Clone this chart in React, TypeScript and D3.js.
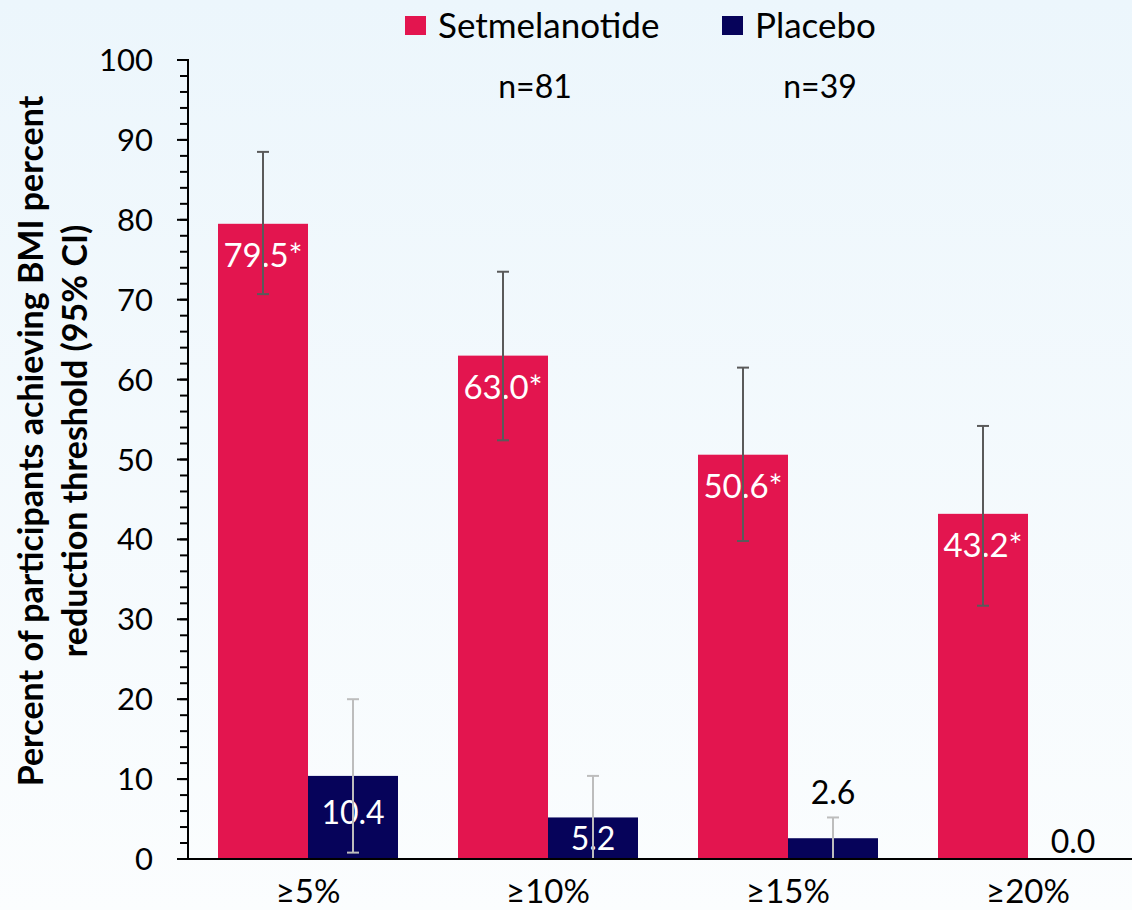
import React from "react";
import * as d3 from "d3";

// Categories and series
const categories = ["≥5%", "≥10%", "≥15%", "≥20%"];
const seriesNames = ["Setmelanotide", "Placebo"];
const seriesCounts = ["n=81", "n=39"];

const setmelanotide = [79.5, 63.0, 50.6, 43.2];
const setmelanotideLow = [70.7, 52.4, 39.8, 31.7];
const setmelanotideHigh = [88.5, 73.5, 61.5, 54.2];
const setmelanotideLabels = ["79.5*", "63.0*", "50.6*", "43.2*"];

const placebo = [10.4, 5.2, 2.6, 0.0];
const placeboLow = [0.8, 0, 0, null];
const placeboHigh = [20.0, 10.4, 5.2, null];
const placeboLabels = ["10.4", "5.2", "2.6", "0.0"];
// where each placebo label sits: inside the bar top, above the bar, or on the baseline
const placeboLabelPlacement = ["inside", "inside", "above", "base"];

const yTicks = [0, 10, 20, 30, 40, 50, 60, 70, 80, 90, 100];
const yMinorTicks = d3.range(0, 101, 2);

const W = 1132;
const H = 910;
const FONT = "Lato, 'Open Sans', sans-serif";
const PINK = "#e3154f";
const NAVY = "#06035a";

export default function App() {
  const plot = { left: 188, right: 1148, top: 60, bottom: 859 };
  const y = d3.scaleLinear().domain([0, 100]).range([plot.bottom, plot.top]);
  const x = d3.scaleBand().domain(categories).range([plot.left, plot.right]).padding(0);
  const xs = d3
    .scaleBand()
    .domain(seriesNames)
    .range([0, x.bandwidth()])
    .paddingInner(0)
    .paddingOuter(1 / 3);
  const bw = xs.bandwidth();
  const cap = 6;

  const placeboLabelY = (i: number) => {
    const p = placeboLabelPlacement[i];
    if (p === "inside") return Math.min(y(placebo[i]) + 48, y(0) - 9);
    if (p === "above") return y(placebo[i]) - 34;
    return y(0) - 6;
  };

  return (
    <svg
      width={W}
      height={H}
      style={{ position: "absolute", left: 0, top: 0 }}
      fontFamily={FONT}
    >
      <defs>
        <linearGradient id="bg" x1="0" y1="0" x2="0" y2="1">
          <stop offset="0" stopColor="#ecf6fc" />
          <stop offset="1" stopColor="#fbfdfe" />
        </linearGradient>
      </defs>
      <rect x={0} y={0} width={W} height={H} fill="url(#bg)" />

      {/* legend */}
      {seriesNames.map((s, i) => {
        const lx = i === 0 ? 405 : 722;
        return (
          <g key={s}>
            <rect x={lx} y={16} width={21} height={19} fill={i === 0 ? PINK : NAVY} />
            <text x={lx + 33} y={38} fontSize={35} fill="#000">
              {s}
            </text>
          </g>
        );
      })}
      {seriesCounts.map((n, i) => (
        <text key={n} x={i === 0 ? 535 : 820} y={98} fontSize={32} textAnchor="middle" fill="#000">
          {n}
        </text>
      ))}

      {/* bars */}
      {categories.map((c, i) => {
        const x0 = (x(c) as number) + (xs(seriesNames[0]) as number);
        const x1 = (x(c) as number) + (xs(seriesNames[1]) as number);
        return (
          <g key={c}>
            <rect x={x0} y={y(setmelanotide[i])} width={bw} height={y(0) - y(setmelanotide[i])} fill={PINK} />
            {placebo[i] > 0 && (
              <rect x={x1} y={y(placebo[i])} width={bw} height={y(0) - y(placebo[i])} fill={NAVY} />
            )}
          </g>
        );
      })}

      {/* labels */}
      {categories.map((c, i) => {
        const x0 = (x(c) as number) + (xs(seriesNames[0]) as number) + bw / 2;
        const x1 = (x(c) as number) + (xs(seriesNames[1]) as number) + bw / 2;
        return (
          <g key={c}>
            <text x={x0} y={y(setmelanotide[i]) + 43} fontSize={33} fill="#fff" textAnchor="middle">
              {setmelanotideLabels[i]}
            </text>
            <text
              x={x1}
              y={placeboLabelY(i)}
              fontSize={32}
              fill={placeboLabelPlacement[i] === "inside" ? "#fff" : "#000"}
              textAnchor="middle"
            >
              {placeboLabels[i]}
            </text>
          </g>
        );
      })}

      {/* error bars */}
      {categories.map((c, i) => {
        const cx0 = (x(c) as number) + (xs(seriesNames[0]) as number) + bw / 2;
        const cx1 = (x(c) as number) + (xs(seriesNames[1]) as number) + bw / 2;
        const lo = placeboLow[i];
        const hi = placeboHigh[i];
        return (
          <g key={c}>
            <g stroke="#5a5a5a" strokeWidth={2}>
              <line x1={cx0} x2={cx0} y1={y(setmelanotideLow[i])} y2={y(setmelanotideHigh[i])} />
              <line x1={cx0 - cap} x2={cx0 + cap} y1={y(setmelanotideHigh[i])} y2={y(setmelanotideHigh[i])} />
              <line x1={cx0 - cap} x2={cx0 + cap} y1={y(setmelanotideLow[i])} y2={y(setmelanotideLow[i])} />
            </g>
            {lo !== null && hi !== null && (
              <g stroke="#bdbdbd" strokeWidth={2}>
                <line x1={cx1} x2={cx1} y1={y(lo)} y2={y(hi)} />
                <line x1={cx1 - cap} x2={cx1 + cap} y1={y(hi)} y2={y(hi)} />
                <line x1={cx1 - cap} x2={cx1 + cap} y1={y(lo)} y2={y(lo)} />
              </g>
            )}
          </g>
        );
      })}

      {/* y axis */}
      <g stroke="#000" strokeWidth={2}>
        <line x1={plot.left} x2={plot.left} y1={y(0) + 1} y2={y(100) - 1} />
        {yMinorTicks.map((t) => (
          <line key={"m" + t} x1={plot.left - 8} x2={plot.left} y1={y(t)} y2={y(t)} />
        ))}
        {yTicks.map((t) => (
          <line key={"t" + t} x1={plot.left - 11} x2={plot.left} y1={y(t)} y2={y(t)} />
        ))}
      </g>
      {yTicks.map((t) => (
        <text key={t} x={153} y={y(t) + 11} fontSize={31} textAnchor="end" fill="#000">
          {t}
        </text>
      ))}

      {/* x axis */}
      <line x1={plot.left} x2={W} y1={y(0)} y2={y(0)} stroke="#000" strokeWidth={2} />
      {categories.map((c) => (
        <text
          key={c}
          x={(x(c) as number) + x.bandwidth() / 2}
          y={903}
          fontSize={33}
          textAnchor="middle"
          fill="#000"
        >
          {c}
        </text>
      ))}

      {/* y axis title */}
      <text
        transform={`translate(43, 441) rotate(-90)`}
        fontSize={34}
        fontWeight="bold"
        textAnchor="middle"
        fill="#000"
      >
        <tspan x={0} dy={0}>Percent of participants achieving BMI percent</tspan>
        <tspan x={0} dy={44}>reduction threshold (95% CI)</tspan>
      </text>
    </svg>
  );
}
